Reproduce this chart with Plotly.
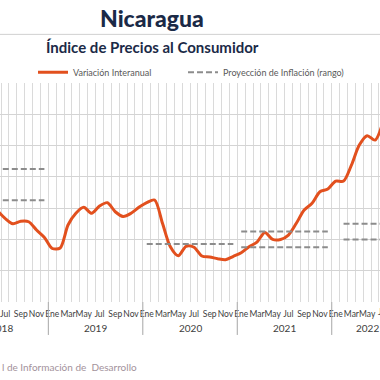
import pandas as pd
import plotly.graph_objects as go

# ---------------- data ----------------
meses = [p.strftime("%Y-%m") for p in pd.period_range("2018-06", "2022-07", freq="M")]
abrev = {1: "Ene", 3: "Mar", 5: "May", 7: "Jul", 9: "Sep", 11: "Nov"}

variacion_interanual = [
    5.85,
    5.35, 5.00, 5.16, 5.13, 4.60, 4.13,
    3.42, 3.45, 4.92, 5.67, 6.05, 5.67, 6.13, 6.35, 5.77, 5.47, 5.67, 6.05,
    6.35, 6.52, 5.03, 3.53, 2.96, 3.56, 3.50, 2.94, 2.88, 2.77, 2.70, 2.92,
    3.15, 3.53, 3.83, 4.45, 4.00, 4.00, 4.28, 5.03, 5.88, 6.31, 7.05, 7.22,
    7.73, 7.73, 8.75, 10.03, 10.63, 10.35, 11.50,
]

# projection ranges: (first month, last month, value)
proy_inicio = ["2018-01", "2018-01", "2020-01", "2021-01", "2021-01", "2022-02", "2022-02"]
proy_fin = ["2018-12", "2018-12", "2020-12", "2021-12", "2021-12", "2022-09", "2022-09"]
proy_valor = [8.5, 6.5, 3.7, 4.5, 3.5, 5.0, 4.0]

anios = [2018, 2019, 2020, 2021, 2022]

# ---------------- helpers ----------------
todos = [p.strftime("%Y-%m") for p in pd.period_range("2018-01", "2022-09", freq="M")]
origen = todos.index("2018-07")


def idx(m):
    return todos.index(m) - origen


x_line = [idx(m) for m in meses]

ORANGE = "#E2501E"
GRAY_DASH = "#8C8C8C"
NAVY = "#1B2A47"
FONT = "Lato"

fig = go.Figure()

fig.add_trace(go.Scatter(
    x=x_line, y=variacion_interanual, mode="lines",
    line=dict(color=ORANGE, width=3, shape="spline", smoothing=0.8),
    name="Variación Interanual", legend="legend",
))

for k, (a, b, v) in enumerate(zip(proy_inicio, proy_fin, proy_valor)):
    fig.add_trace(go.Scatter(
        x=[idx(a), idx(b)], y=[v, v], mode="lines",
        line=dict(color=GRAY_DASH, width=2, dash="6px,3px"),
        name="Proyección de Inflación (rango)", legend="legend2",
        legendgroup="proy", showlegend=(k == 0),
    ))

x_left = -0.64
x_right = 47.63


def px_frac(xv):
    return (xv - x_left) / (x_right - x_left)


# month tick labels (in-range ones as axis ticks, edge ones as annotations)
tickvals, ticktext, edge = [], [], []
for m in todos:
    mm = int(m[5:])
    if mm in abrev:
        if x_left <= idx(m) <= x_right:
            tickvals.append(idx(m))
            ticktext.append(abrev[mm])
        elif idx(m) < x_right + 1:
            edge.append((idx(m), abrev[mm]))

W, H = 380, 380
top, bottom = 82.7, 302.0
ph = bottom - top


def py(ypx):
    return (bottom - ypx) / ph


annotations = [
    dict(text="Nicaragua", xref="paper", yref="paper", x=152 / W, y=py(18),
         xanchor="center", yanchor="middle", showarrow=False,
         font=dict(family=FONT, size=23, color=NAVY, weight=900)),
    dict(text="<b>Índice de Precios al Consumidor</b>", xref="paper", yref="paper",
         x=152 / W, y=py(47), xanchor="center", yanchor="middle", showarrow=False,
         font=dict(family=FONT, size=15, color=NAVY)),
    dict(text="l de Información de  Desarrollo", xref="paper", yref="paper",
         x=0, y=py(367), xanchor="left", yanchor="middle", showarrow=False,
         font=dict(family=FONT, size=10, color="#A3929B")),
]
for xv, lab in edge:
    annotations.append(dict(text=lab, xref="paper", yref="paper", x=px_frac(xv), y=py(312.5),
                            xanchor="center", yanchor="middle", showarrow=False,
                            font=dict(family=FONT, size=8.5, color="#404040")))
shapes = [
    dict(type="line", xref="paper", yref="paper", x0=0, x1=1, y0=py(34), y1=py(34),
         line=dict(color="#D0D0D0", width=1)),
]
for a in anios:
    meses_anio = [m for m in todos if m.startswith(str(a))]
    centro = (idx(meses_anio[0]) + idx(meses_anio[-1])) / 2
    annotations.append(dict(text=str(a), xref="x", yref="paper", x=centro, y=py(328),
                            xanchor="center", yanchor="middle", showarrow=False,
                            font=dict(family=FONT, size=10, color="#404040")))
    sep = idx(meses_anio[0]) - 0.5
    shapes.append(dict(type="line", xref="x", yref="paper", x0=sep, x1=sep,
                       y0=0, y1=py(335), line=dict(color="#A6A6A6", width=1)))

legend_font = dict(family=FONT, size=9, color="#595959")

fig.update_layout(
    width=W, height=H,
    margin=dict(l=0, r=0, t=top, b=H - bottom, pad=0, autoexpand=False),
    paper_bgcolor="white", plot_bgcolor="white",
    font=dict(family=FONT, color="#404040"),
    showlegend=True,
    legend=dict(orientation="h", x=33 / W, xanchor="left", y=py(72), yanchor="middle",
                font=legend_font, bgcolor="rgba(0,0,0,0)"),
    legend2=dict(orientation="h", x=183 / W, xanchor="left", y=py(72), yanchor="middle",
                 font=legend_font, bgcolor="rgba(0,0,0,0)"),
    xaxis=dict(range=[x_left, x_right], tickmode="array", tickvals=tickvals, ticktext=ticktext,
               tickangle=0, showgrid=False, zeroline=False, showline=False, ticks="",
               tickfont=dict(family=FONT, size=8.5, color="#404040"),
               ticklabeloverflow="allow", ticklabelstandoff=5,
               minor=dict(tick0=-0.5, dtick=1, showgrid=True, gridcolor="#DADADA", gridwidth=1)),
    yaxis=dict(range=[0, 14], tickmode="array", tickvals=[2, 4, 6, 8, 10, 12, 14],
               showticklabels=False, showgrid=True, gridcolor="#D4D4D4", gridwidth=1,
               zeroline=False, showline=False),
    annotations=annotations,
    shapes=shapes,
)

fig.write_html("out.html", config={"displayModeBar": False},
               post_script="document.body.style.margin='0';")
